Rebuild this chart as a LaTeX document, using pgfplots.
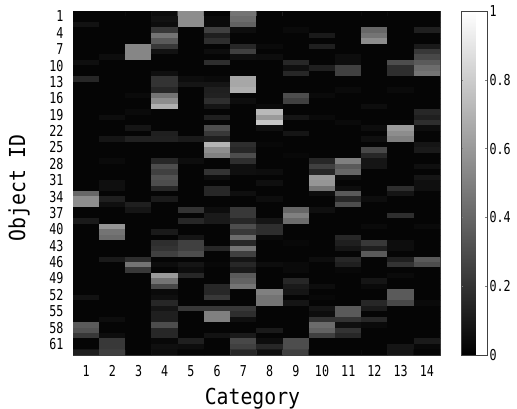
\documentclass[border=0pt]{standalone}
\usepackage{fontspec}
\setmainfont{DejaVu Sans Mono}[FakeStretch=0.78]
\newfontfamily\lblfont{DejaVu Sans Mono}[FakeStretch=0.9]
\usepackage{pgfplots}
\pgfplotsset{compat=1.18}

\begin{document}
\begin{tikzpicture}
\useasboundingbox (0,0) rectangle (517pt,408pt);
\begin{axis}[
  at={(73pt,53pt)}, anchor=south west,
  scale only axis, width=367pt, height=344pt,
  xmin=0.5, xmax=14.5, ymin=0.5, ymax=63.5,
  y dir=reverse,
  xtick={1,...,14},
  ytick={1,4,...,61},
  tick align=inside,
  major tick length=3pt,
  tick style={black!45, line width=0.5pt},
  axis line style={black!75, line width=0.7pt},
  /pgf/number format/assume math mode=true,
  tick label style={font=\fontsize{15}{15}\selectfont},
  xticklabel style={yshift=-7pt},
  yticklabel style={xshift=-6pt, yshift=-2.7pt},
  xlabel={\lblfont Category},
  ylabel={\lblfont Object ID},
  label style={font=\fontsize{22}{22}\selectfont},
  xlabel style={at={(axis description cs:0.489,0)}, anchor=base, yshift=-49pt},
  ylabel style={at={(axis description cs:-0.147,0.486)}, anchor=center},
  colormap={matgray}{gray(0cm)=(0); gray(1cm)=(1)},
  point meta min=0, point meta max=1,
  colorbar,
  colorbar style={
    at={(parent axis.north east)}, anchor=north west, xshift=12.5pt,
    scale only axis, width=26pt, height=344pt,
    ytick={0,0.2,...,1},
    yticklabel pos=right,
    tick align=inside,
    major tick length=2pt,
    tick style={black!50, line width=0.4pt},
    axis line style={black!75, line width=0.7pt},
    /pgf/number format/assume math mode=true,
    yticklabel style={font=\fontsize{15}{15}\selectfont, xshift=-1pt},
  },
]
\addplot[matrix plot*, mesh/cols=14, point meta=explicit] coordinates {
(1,1)[.02] (2,1)[.02] (3,1)[.02] (4,1)[.05] (5,1)[.55] (6,1)[.02] (7,1)[.45] (8,1)[.02] (9,1)[.02] (10,1)[.02] (11,1)[.02] (12,1)[.02] (13,1)[.02] (14,1)[.02]
(1,2)[.02] (2,2)[.02] (3,2)[.02] (4,2)[.07] (5,2)[.55] (6,2)[.04] (7,2)[.42] (8,2)[.02] (9,2)[.02] (10,2)[.02] (11,2)[.02] (12,2)[.02] (13,2)[.02] (14,2)[.02]
(1,3)[.07] (2,3)[.02] (3,3)[.02] (4,3)[.05] (5,3)[.55] (6,3)[.04] (7,3)[.38] (8,3)[.02] (9,3)[.02] (10,3)[.02] (11,3)[.02] (12,3)[.02] (13,3)[.02] (14,3)[.02]
(1,4)[.02] (2,4)[.02] (3,4)[.02] (4,4)[.22] (5,4)[.02] (6,4)[.25] (7,4)[.05] (8,4)[.02] (9,4)[.04] (10,4)[.02] (11,4)[.02] (12,4)[.40] (13,4)[.02] (14,4)[.12]
(1,5)[.02] (2,5)[.02] (3,5)[.02] (4,5)[.45] (5,5)[.02] (6,5)[.12] (7,5)[.02] (8,5)[.02] (9,5)[.02] (10,5)[.10] (11,5)[.02] (12,5)[.45] (13,5)[.02] (14,5)[.02]
(1,6)[.02] (2,6)[.02] (3,6)[.02] (4,6)[.35] (5,6)[.02] (6,6)[.18] (7,6)[.02] (8,6)[.02] (9,6)[.02] (10,6)[.02] (11,6)[.02] (12,6)[.55] (13,6)[.02] (14,6)[.02]
(1,7)[.02] (2,7)[.02] (3,7)[.52] (4,7)[.22] (5,7)[.02] (6,7)[.02] (7,7)[.15] (8,7)[.04] (9,7)[.02] (10,7)[.12] (11,7)[.02] (12,7)[.02] (13,7)[.02] (14,7)[.10]
(1,8)[.02] (2,8)[.02] (3,8)[.52] (4,8)[.07] (5,8)[.02] (6,8)[.05] (7,8)[.25] (8,8)[.02] (9,8)[.02] (10,8)[.02] (11,8)[.02] (12,8)[.02] (13,8)[.02] (14,8)[.22]
(1,9)[.02] (2,9)[.05] (3,9)[.52] (4,9)[.02] (5,9)[.02] (6,9)[.02] (7,9)[.06] (8,9)[.05] (9,9)[.02] (10,9)[.02] (11,9)[.05] (12,9)[.02] (13,9)[.02] (14,9)[.28]
(1,10)[.06] (2,10)[.02] (3,10)[.02] (4,10)[.02] (5,10)[.02] (6,10)[.18] (7,10)[.02] (8,10)[.02] (9,10)[.15] (10,10)[.02] (11,10)[.05] (12,10)[.02] (13,10)[.30] (14,10)[.35]
(1,11)[.02] (2,11)[.02] (3,11)[.02] (4,11)[.02] (5,11)[.02] (6,11)[.02] (7,11)[.02] (8,11)[.02] (9,11)[.06] (10,11)[.12] (11,11)[.25] (12,11)[.02] (13,11)[.18] (14,11)[.42]
(1,12)[.02] (2,12)[.02] (3,12)[.02] (4,12)[.06] (5,12)[.02] (6,12)[.02] (7,12)[.02] (8,12)[.02] (9,12)[.15] (10,12)[.02] (11,12)[.25] (12,12)[.02] (13,12)[.18] (14,12)[.45]
(1,13)[.15] (2,13)[.02] (3,13)[.02] (4,13)[.20] (5,13)[.05] (6,13)[.04] (7,13)[.65] (8,13)[.02] (9,13)[.02] (10,13)[.02] (11,13)[.02] (12,13)[.02] (13,13)[.02] (14,13)[.02]
(1,14)[.02] (2,14)[.02] (3,14)[.02] (4,14)[.20] (5,14)[.08] (6,14)[.08] (7,14)[.65] (8,14)[.02] (9,14)[.02] (10,14)[.02] (11,14)[.02] (12,14)[.02] (13,14)[.02] (14,14)[.02]
(1,15)[.02] (2,15)[.02] (3,15)[.02] (4,15)[.15] (5,15)[.02] (6,15)[.12] (7,15)[.68] (8,15)[.02] (9,15)[.02] (10,15)[.02] (11,15)[.04] (12,15)[.02] (13,15)[.04] (14,15)[.02]
(1,16)[.02] (2,16)[.02] (3,16)[.04] (4,16)[.45] (5,16)[.02] (6,16)[.13] (7,16)[.02] (8,16)[.02] (9,16)[.30] (10,16)[.04] (11,16)[.02] (12,16)[.02] (13,16)[.02] (14,16)[.02]
(1,17)[.02] (2,17)[.02] (3,17)[.02] (4,17)[.55] (5,17)[.02] (6,17)[.18] (7,17)[.05] (8,17)[.02] (9,17)[.25] (10,17)[.02] (11,17)[.02] (12,17)[.02] (13,17)[.02] (14,17)[.02]
(1,18)[.02] (2,18)[.02] (3,18)[.02] (4,18)[.68] (5,18)[.02] (6,18)[.08] (7,18)[.02] (8,18)[.04] (9,18)[.02] (10,18)[.02] (11,18)[.02] (12,18)[.05] (13,18)[.02] (14,18)[.02]
(1,19)[.02] (2,19)[.02] (3,19)[.04] (4,19)[.02] (5,19)[.02] (6,19)[.02] (7,19)[.02] (8,19)[.72] (9,19)[.02] (10,19)[.02] (11,19)[.02] (12,19)[.02] (13,19)[.02] (14,19)[.15]
(1,20)[.02] (2,20)[.05] (3,20)[.02] (4,20)[.02] (5,20)[.02] (6,20)[.12] (7,20)[.02] (8,20)[.60] (9,20)[.08] (10,20)[.04] (11,20)[.02] (12,20)[.02] (13,20)[.02] (14,20)[.12]
(1,21)[.02] (2,21)[.02] (3,21)[.02] (4,21)[.02] (5,21)[.02] (6,21)[.02] (7,21)[.02] (8,21)[.78] (9,21)[.02] (10,21)[.02] (11,21)[.04] (12,21)[.02] (13,21)[.02] (14,21)[.18]
(1,22)[.02] (2,22)[.02] (3,22)[.08] (4,22)[.02] (5,22)[.02] (6,22)[.30] (7,22)[.02] (8,22)[.06] (9,22)[.02] (10,22)[.02] (11,22)[.02] (12,22)[.05] (13,22)[.60] (14,22)[.05]
(1,23)[.02] (2,23)[.02] (3,23)[.02] (4,23)[.12] (5,23)[.02] (6,23)[.22] (7,23)[.02] (8,23)[.02] (9,23)[.08] (10,23)[.02] (11,23)[.02] (12,23)[.02] (13,23)[.55] (14,23)[.02]
(1,24)[.02] (2,24)[.08] (3,24)[.13] (4,24)[.13] (5,24)[.10] (6,24)[.12] (7,24)[.02] (8,24)[.02] (9,24)[.02] (10,24)[.02] (11,24)[.02] (12,24)[.06] (13,24)[.50] (14,24)[.02]
(1,25)[.02] (2,25)[.02] (3,25)[.02] (4,25)[.02] (5,25)[.02] (6,25)[.70] (7,25)[.18] (8,25)[.03] (9,25)[.02] (10,25)[.02] (11,25)[.02] (12,25)[.02] (13,25)[.02] (14,25)[.08]
(1,26)[.02] (2,26)[.02] (3,26)[.02] (4,26)[.02] (5,26)[.02] (6,26)[.55] (7,26)[.15] (8,26)[.02] (9,26)[.02] (10,26)[.02] (11,26)[.02] (12,26)[.28] (13,26)[.02] (14,26)[.10]
(1,27)[.02] (2,27)[.02] (3,27)[.02] (4,27)[.02] (5,27)[.02] (6,27)[.50] (7,27)[.30] (8,27)[.02] (9,27)[.03] (10,27)[.02] (11,27)[.02] (12,27)[.15] (13,27)[.02] (14,27)[.02]
(1,28)[.02] (2,28)[.04] (3,28)[.02] (4,28)[.15] (5,28)[.05] (6,28)[.02] (7,28)[.18] (8,28)[.02] (9,28)[.02] (10,28)[.15] (11,28)[.50] (12,28)[.08] (13,28)[.02] (14,28)[.02]
(1,29)[.02] (2,29)[.02] (3,29)[.02] (4,29)[.30] (5,29)[.02] (6,29)[.02] (7,29)[.06] (8,29)[.02] (9,29)[.02] (10,29)[.25] (11,29)[.35] (12,29)[.08] (13,29)[.02] (14,29)[.06]
(1,30)[.02] (2,30)[.02] (3,30)[.02] (4,30)[.25] (5,30)[.02] (6,30)[.20] (7,30)[.06] (8,30)[.05] (9,30)[.02] (10,30)[.15] (11,30)[.40] (12,30)[.02] (13,30)[.02] (14,30)[.02]
(1,31)[.02] (2,31)[.02] (3,31)[.02] (4,31)[.32] (5,31)[.02] (6,31)[.05] (7,31)[.02] (8,31)[.02] (9,31)[.02] (10,31)[.60] (11,31)[.05] (12,31)[.02] (13,31)[.02] (14,31)[.08]
(1,32)[.02] (2,32)[.06] (3,32)[.02] (4,32)[.30] (5,32)[.02] (6,32)[.02] (7,32)[.02] (8,32)[.06] (9,32)[.02] (10,32)[.58] (11,32)[.02] (12,32)[.02] (13,32)[.02] (14,32)[.06]
(1,33)[.02] (2,33)[.06] (3,33)[.02] (4,33)[.15] (5,33)[.02] (6,33)[.15] (7,33)[.02] (8,33)[.02] (9,33)[.02] (10,33)[.45] (11,33)[.05] (12,33)[.02] (13,33)[.18] (14,33)[.06]
(1,34)[.40] (2,34)[.02] (3,34)[.02] (4,34)[.02] (5,34)[.02] (6,34)[.15] (7,34)[.06] (8,34)[.02] (9,34)[.02] (10,34)[.05] (11,34)[.35] (12,34)[.02] (13,34)[.08] (14,34)[.02]
(1,35)[.55] (2,35)[.12] (3,35)[.02] (4,35)[.10] (5,35)[.02] (6,35)[.02] (7,35)[.02] (8,35)[.05] (9,35)[.02] (10,35)[.02] (11,35)[.15] (12,35)[.05] (13,35)[.02] (14,35)[.02]
(1,36)[.55] (2,36)[.06] (3,36)[.12] (4,36)[.02] (5,36)[.02] (6,36)[.02] (7,36)[.02] (8,36)[.02] (9,36)[.02] (10,36)[.02] (11,36)[.30] (12,36)[.02] (13,36)[.02] (14,36)[.02]
(1,37)[.02] (2,37)[.02] (3,37)[.08] (4,37)[.02] (5,37)[.20] (6,37)[.05] (7,37)[.22] (8,37)[.02] (9,37)[.40] (10,37)[.06] (11,37)[.02] (12,37)[.02] (13,37)[.02] (14,37)[.02]
(1,38)[.02] (2,38)[.02] (3,38)[.02] (4,38)[.02] (5,38)[.02] (6,38)[.10] (7,38)[.22] (8,38)[.02] (9,38)[.50] (10,38)[.02] (11,38)[.02] (12,38)[.02] (13,38)[.18] (14,38)[.02]
(1,39)[.10] (2,39)[.02] (3,39)[.02] (4,39)[.02] (5,39)[.15] (6,39)[.10] (7,39)[.15] (8,39)[.08] (9,39)[.42] (10,39)[.02] (11,39)[.02] (12,39)[.02] (13,39)[.02] (14,39)[.02]
(1,40)[.02] (2,40)[.58] (3,40)[.02] (4,40)[.02] (5,40)[.02] (6,40)[.02] (7,40)[.30] (8,40)[.18] (9,40)[.02] (10,40)[.02] (11,40)[.02] (12,40)[.04] (13,40)[.02] (14,40)[.04]
(1,41)[.02] (2,41)[.45] (3,41)[.02] (4,41)[.10] (5,41)[.02] (6,41)[.02] (7,41)[.22] (8,41)[.18] (9,41)[.02] (10,41)[.02] (11,41)[.02] (12,41)[.02] (13,41)[.02] (14,41)[.02]
(1,42)[.02] (2,42)[.42] (3,42)[.02] (4,42)[.02] (5,42)[.08] (6,42)[.02] (7,42)[.42] (8,42)[.04] (9,42)[.02] (10,42)[.02] (11,42)[.15] (12,42)[.02] (13,42)[.02] (14,42)[.02]
(1,43)[.02] (2,43)[.02] (3,43)[.02] (4,43)[.18] (5,43)[.25] (6,43)[.02] (7,43)[.15] (8,43)[.02] (9,43)[.03] (10,43)[.02] (11,43)[.12] (12,43)[.22] (13,43)[.05] (14,43)[.02]
(1,44)[.02] (2,44)[.02] (3,44)[.02] (4,44)[.20] (5,44)[.25] (6,44)[.15] (7,44)[.45] (8,44)[.02] (9,44)[.02] (10,44)[.02] (11,44)[.08] (12,44)[.12] (13,44)[.05] (14,44)[.02]
(1,45)[.02] (2,45)[.02] (3,45)[.02] (4,45)[.25] (5,45)[.30] (6,45)[.02] (7,45)[.25] (8,45)[.02] (9,45)[.02] (10,45)[.02] (11,45)[.02] (12,45)[.35] (13,45)[.02] (14,45)[.02]
(1,46)[.02] (2,46)[.10] (3,46)[.18] (4,46)[.02] (5,46)[.02] (6,46)[.02] (7,46)[.08] (8,46)[.02] (9,46)[.02] (10,46)[.05] (11,46)[.15] (12,46)[.02] (13,46)[.12] (14,46)[.35]
(1,47)[.02] (2,47)[.02] (3,47)[.45] (4,47)[.05] (5,47)[.08] (6,47)[.03] (7,47)[.15] (8,47)[.05] (9,47)[.04] (10,47)[.02] (11,47)[.12] (12,47)[.02] (13,47)[.20] (14,47)[.30]
(1,48)[.02] (2,48)[.02] (3,48)[.22] (4,48)[.02] (5,48)[.05] (6,48)[.02] (7,48)[.10] (8,48)[.02] (9,48)[.04] (10,48)[.02] (11,48)[.03] (12,48)[.02] (13,48)[.02] (14,48)[.02]
(1,49)[.02] (2,49)[.02] (3,49)[.02] (4,49)[.60] (5,49)[.15] (6,49)[.02] (7,49)[.35] (8,49)[.02] (9,49)[.02] (10,49)[.02] (11,49)[.02] (12,49)[.02] (13,49)[.04] (14,49)[.02]
(1,50)[.02] (2,50)[.02] (3,50)[.02] (4,50)[.45] (5,50)[.02] (6,50)[.02] (7,50)[.38] (8,50)[.02] (9,50)[.15] (10,50)[.02] (11,50)[.02] (12,50)[.08] (13,50)[.02] (14,50)[.02]
(1,51)[.02] (2,51)[.02] (3,51)[.02] (4,51)[.28] (5,51)[.02] (6,51)[.15] (7,51)[.45] (8,51)[.02] (9,51)[.10] (10,51)[.05] (11,51)[.02] (12,51)[.04] (13,51)[.02] (14,51)[.02]
(1,52)[.02] (2,52)[.02] (3,52)[.02] (4,52)[.04] (5,52)[.02] (6,52)[.15] (7,52)[.02] (8,52)[.50] (9,52)[.08] (10,52)[.02] (11,52)[.02] (12,52)[.02] (13,52)[.35] (14,52)[.02]
(1,53)[.07] (2,53)[.02] (3,53)[.02] (4,53)[.06] (5,53)[.02] (6,53)[.22] (7,53)[.02] (8,53)[.45] (9,53)[.02] (10,53)[.03] (11,53)[.02] (12,53)[.02] (13,53)[.35] (14,53)[.02]
(1,54)[.02] (2,54)[.02] (3,54)[.02] (4,54)[.15] (5,54)[.02] (6,54)[.02] (7,54)[.02] (8,54)[.45] (9,54)[.08] (10,54)[.02] (11,54)[.02] (12,54)[.15] (13,54)[.28] (14,54)[.04]
(1,55)[.02] (2,55)[.02] (3,55)[.02] (4,55)[.08] (5,55)[.22] (6,55)[.22] (7,55)[.22] (8,55)[.02] (9,55)[.02] (10,55)[.08] (11,55)[.35] (12,55)[.10] (13,55)[.02] (14,55)[.02]
(1,56)[.02] (2,56)[.02] (3,56)[.02] (4,56)[.12] (5,56)[.02] (6,56)[.50] (7,56)[.18] (8,56)[.02] (9,56)[.02] (10,56)[.05] (11,56)[.35] (12,56)[.02] (13,56)[.02] (14,56)[.02]
(1,57)[.02] (2,57)[.05] (3,57)[.02] (4,57)[.12] (5,57)[.02] (6,57)[.50] (7,57)[.06] (8,57)[.02] (9,57)[.02] (10,57)[.20] (11,57)[.20] (12,57)[.15] (13,57)[.02] (14,57)[.02]
(1,58)[.35] (2,58)[.02] (3,58)[.02] (4,58)[.30] (5,58)[.02] (6,58)[.02] (7,58)[.02] (8,58)[.02] (9,58)[.02] (10,58)[.42] (11,58)[.06] (12,58)[.04] (13,58)[.02] (14,58)[.02]
(1,59)[.32] (2,59)[.02] (3,59)[.02] (4,59)[.15] (5,59)[.02] (6,59)[.02] (7,59)[.02] (8,59)[.10] (9,59)[.02] (10,59)[.38] (11,59)[.20] (12,59)[.02] (13,59)[.02] (14,59)[.02]
(1,60)[.22] (2,60)[.05] (3,60)[.02] (4,60)[.15] (5,60)[.02] (6,60)[.07] (7,60)[.10] (8,60)[.02] (9,60)[.02] (10,60)[.25] (11,60)[.15] (12,60)[.02] (13,60)[.02] (14,60)[.02]
(1,61)[.02] (2,61)[.22] (3,61)[.02] (4,61)[.03] (5,61)[.12] (6,61)[.02] (7,61)[.28] (8,61)[.05] (9,61)[.30] (10,61)[.02] (11,61)[.02] (12,61)[.02] (13,61)[.02] (14,61)[.10]
(1,62)[.02] (2,62)[.22] (3,62)[.02] (4,62)[.06] (5,62)[.05] (6,62)[.02] (7,62)[.25] (8,62)[.15] (9,62)[.30] (10,62)[.02] (11,62)[.02] (12,62)[.02] (13,62)[.08] (14,62)[.03]
(1,63)[.12] (2,63)[.25] (3,63)[.02] (4,63)[.05] (5,63)[.02] (6,63)[.02] (7,63)[.15] (8,63)[.06] (9,63)[.25] (10,63)[.02] (11,63)[.02] (12,63)[.02] (13,63)[.08] (14,63)[.02]
};
\end{axis}
\end{tikzpicture}
\end{document}
